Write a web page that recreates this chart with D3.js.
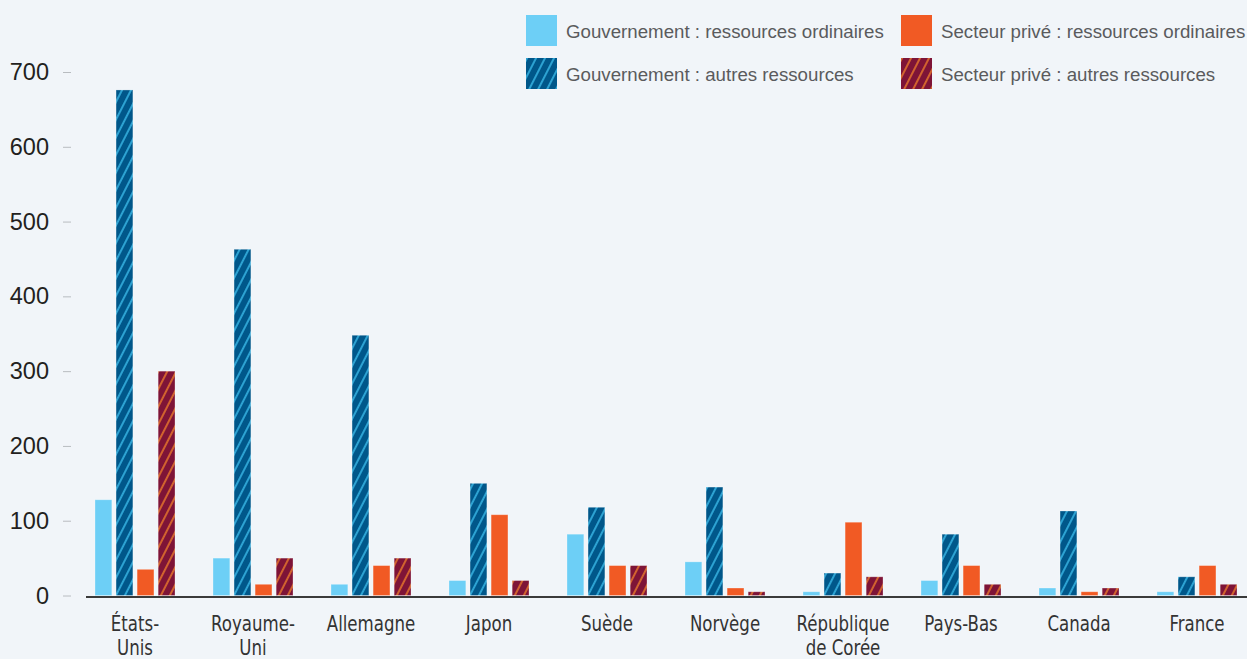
<!DOCTYPE html>
<html>
<head>
<meta charset="utf-8">
<script src="https://cdn.jsdelivr.net/npm/d3@7"></script>
<style>
  html, body { margin: 0; padding: 0; background: #f1f5f9; }
  svg { display: block; }
</style>
</head>
<body>
<svg width="1247" height="659"></svg>
<script>
// pays (libellés sur deux lignes quand il le faut)
const countries = ["États-Unis", "Royaume-Uni", "Allemagne", "Japon", "Suède",
                   "Norvège", "République de Corée", "Pays-Bas", "Canada", "France"];
const countryLines = [["États-", "Unis"], ["Royaume-", "Uni"], ["Allemagne"], ["Japon"], ["Suède"],
                      ["Norvège"], ["République", "de Corée"], ["Pays-Bas"], ["Canada"], ["France"]];

// séries
const govOrdinaires   = [128, 50, 15, 20, 82, 45, 5, 20, 10, 5];
const govAutres       = [676, 463, 348, 150, 118, 145, 30, 82, 113, 25];
const priveOrdinaires = [35, 15, 40, 108, 40, 10, 98, 40, 5, 40];
const priveAutres     = [300, 50, 50, 20, 40, 5, 25, 15, 10, 15];

const seriesNames = ["Gouvernement : ressources ordinaires", "Gouvernement : autres ressources",
                     "Secteur privé : ressources ordinaires", "Secteur privé : autres ressources"];
const yTicks = [0, 100, 200, 300, 400, 500, 600, 700];

const allSeries = [govOrdinaires, govAutres, priveOrdinaires, priveAutres];
const fills = ["#6dcff6", "url(#hatch-gov)", "#f15a24", "url(#hatch-prive)"];

let svg = d3.select("svg");

// motifs hachurés
const defs = svg.append("defs");
function hatch(id, bg, fg) {
   const p = defs.append("pattern")
      .attr("id", id)
      .attr("patternUnits", "userSpaceOnUse")
      .attr("width", 8)
      .attr("height", 8)
      .attr("patternTransform", "rotate(27)");
   p.append("rect").attr("width", 8).attr("height", 8).attr("fill", bg);
   p.append("line").attr("x1", 1).attr("x2", 1).attr("y1", 0).attr("y2", 8)
      .attr("stroke", fg).attr("stroke-width", 1.4);
}
hatch("hatch-gov", "#00578a", "#40c3f2");
hatch("hatch-prive", "#7e1437", "#f5842a");

// échelles
const scX = d3.scaleBand()
   .domain(countries)
   .range([57, 1275])
   .paddingInner(0.322)
   .paddingOuter(0.322);

const scX1 = d3.scaleBand()
   .domain(seriesNames)
   .range([0, scX.bandwidth()])
   .paddingInner(0.2);

const scY = d3.scaleLinear()
   .domain([0, 700])
   .range([595.5, 72]);

// axe vertical
const axisY = d3.axisLeft(scY).tickValues(yTicks).tickSize(8).tickPadding(14);
const gy = svg.append("g")
   .attr("transform", "translate(71, 0)")
   .call(axisY);
gy.select(".domain").remove();
gy.selectAll("line").attr("stroke", "#b8bcc0");
gy.selectAll("text")
   .style("font-family", "'Liberation Sans', Arial, sans-serif")
   .style("font-size", "23.5px")
   .attr("fill", "#231f20");

// barres
const rows = countries.map((c, i) => ({country: c, values: allSeries.map(s => s[i])}));
const groups = svg.selectAll(".group")
   .data(rows)
   .enter()
   .append("g")
   .attr("transform", d => `translate(${scX(d.country)}, 0)`);

groups.selectAll("rect")
   .data(d => d.values.map((v, k) => ({key: seriesNames[k], value: v, k: k})))
   .enter()
   .append("rect")
   .attr("x", d => scX1(d.key))
   .attr("width", scX1.bandwidth())
   .attr("y", d => scY(d.value))
   .attr("height", d => scY(0) - scY(d.value))
   .attr("fill", d => fills[d.k])
   .attr("stroke", "rgba(255,255,255,0.35)")
   .attr("stroke-width", 0.8);

// ligne de base
svg.append("line")
   .attr("x1", 86).attr("x2", 1247)
   .attr("y1", scY(0) + 1.5).attr("y2", scY(0) + 1.5)
   .attr("stroke", "#3a3a3a")
   .attr("stroke-width", 2);

// libellés des pays (police étroite simulée)
svg.selectAll(".label")
   .data(countries)
   .enter()
   .append("text")
   .attr("text-anchor", "middle")
   .attr("transform", d => `translate(${scX(d) + scX.bandwidth() / 2}, 0) scale(0.84, 1)`)
   .style("font-family", "'Liberation Sans Narrow', 'DejaVu Sans Condensed', sans-serif")
   .style("font-size", "22px")
   .attr("fill", "#333")
   .each(function(d, i) {
      const t = d3.select(this);
      countryLines[i].forEach((line, j) => {
         t.append("tspan")
            .attr("x", 0)
            .attr("y", 631 + j * 24)
            .text(line);
      });
   });

// légende
const legendPos = [[526, 15], [526, 58], [901, 15], [901, 58]];
const legend = svg.selectAll(".legend")
   .data(seriesNames)
   .enter()
   .append("g")
   .attr("transform", (d, i) => `translate(${legendPos[i][0]}, ${legendPos[i][1]})`);
legend.append("rect")
   .attr("width", 31)
   .attr("height", 31)
   .attr("fill", (d, i) => fills[i]);
legend.append("text")
   .attr("x", 40)
   .attr("y", 23)
   .style("font-family", "'Liberation Sans', Arial, sans-serif")
   .style("font-size", "18.7px")
   .attr("fill", "#5a5b5d")
   .text(d => d);
</script>
</body>
</html>
